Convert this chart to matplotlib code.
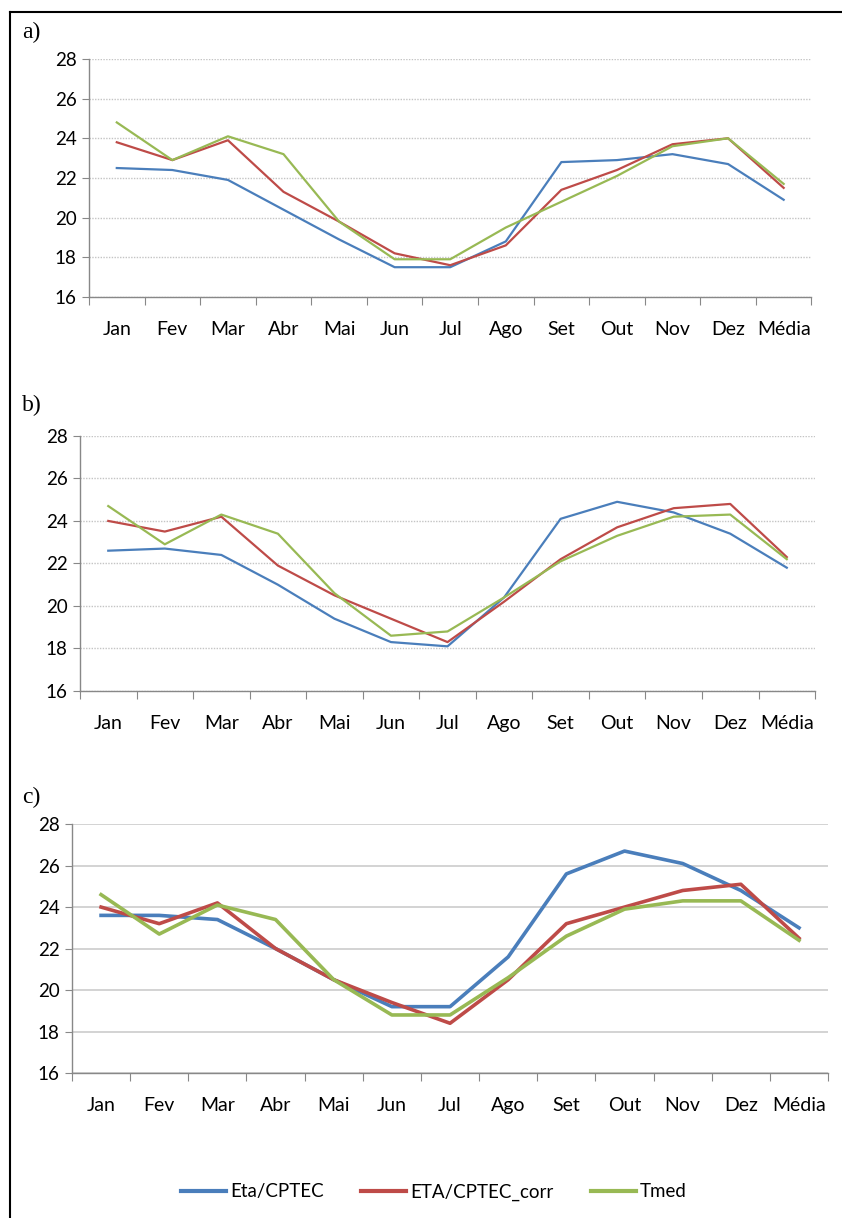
import matplotlib

matplotlib.use("Agg")
import matplotlib.pyplot as plt
from matplotlib.lines import Line2D

months = ["Jan", "Fev", "Mar", "Abr", "Mai", "Jun", "Jul", "Ago", "Set", "Out", "Nov", "Dez", "Média"]

# panel a)
eta_a = [22.5, 22.4, 21.9, 20.4, 18.9, 17.5, 17.5, 18.8, 22.8, 22.9, 23.2, 22.7, 20.9]
corr_a = [23.8, 22.9, 23.9, 21.3, 19.8, 18.2, 17.6, 18.6, 21.4, 22.4, 23.7, 24.0, 21.5]
tmed_a = [24.8, 22.9, 24.1, 23.2, 19.8, 17.9, 17.9, 19.5, 20.8, 22.1, 23.6, 24.0, 21.7]

# panel b)
eta_b = [22.6, 22.7, 22.4, 21.0, 19.4, 18.3, 18.1, 20.4, 24.1, 24.9, 24.4, 23.4, 21.8]
corr_b = [24.0, 23.5, 24.2, 21.9, 20.5, 19.4, 18.3, 20.2, 22.2, 23.7, 24.6, 24.8, 22.3]
tmed_b = [24.7, 22.9, 24.3, 23.4, 20.6, 18.6, 18.8, 20.4, 22.1, 23.3, 24.2, 24.3, 22.2]

# panel c)
eta_c = [23.6, 23.6, 23.4, 22.0, 20.5, 19.2, 19.2, 21.6, 25.6, 26.7, 26.1, 24.8, 23.0]
corr_c = [24.0, 23.2, 24.2, 22.0, 20.5, 19.4, 18.4, 20.5, 23.2, 24.0, 24.8, 25.1, 22.5]
tmed_c = [24.6, 22.7, 24.1, 23.4, 20.5, 18.8, 18.8, 20.6, 22.6, 23.9, 24.3, 24.3, 22.4]

series_labels = ["Eta/CPTEC", "ETA/CPTEC_corr", "Tmed"]
colors = ["#4a7ebb", "#be4b48", "#98b954"]
yticks = [16, 18, 20, 22, 24, 26, 28]

TICK_FONT = ["Lato", "DejaVu Sans"]
LABEL_FONT = ["Liberation Serif", "DejaVu Serif"]

fig = plt.figure(figsize=(8.42, 12.18), dpi=100)

# frame around the figure (top and left edges visible)
fig.add_artist(Line2D([10 / 842, 1.0], [1 - 12 / 1218, 1 - 12 / 1218], color="black", lw=1.5))
fig.add_artist(Line2D([10 / 842, 10 / 842], [0.0, 1 - 12 / 1218], color="black", lw=1.5))

panels = [
    ("a)", [eta_a, corr_a, tmed_a], [0.1057, 0.7562, 0.858, 0.1954], 1.6, ":", (22 / 842, 1 - 32 / 1218)),
    ("b)", [eta_b, corr_b, tmed_b], [0.0950, 0.4327, 0.873, 0.2094], 1.6, ":", (22 / 842, 1 - 405 / 1218)),
    ("c)", [eta_c, corr_c, tmed_c], [0.0855, 0.1190, 0.898, 0.2044], 2.6, "-", (22 / 842, 1 - 797 / 1218)),
]

x = list(range(len(months)))

for tag, data, rect, lw, gstyle, tagpos in panels:
    ax = fig.add_axes(rect)
    for vals, lab, col in zip(data, series_labels, colors):
        ax.plot(x, vals, color=col, lw=lw, label=lab, solid_joinstyle="round")

    ax.set_xlim(-0.5, len(months) - 0.5)
    ax.set_ylim(16, 28)
    ax.set_yticks(yticks)
    ax.set_yticklabels([str(v) for v in yticks], fontsize=13.5, family=TICK_FONT)

    # category ticks at boundaries, labels centred (Excel style)
    ax.set_xticks([i - 0.5 for i in range(len(months) + 1)])
    ax.set_xticklabels([])
    ax.set_xticks(x, minor=True)
    ax.set_xticklabels(months, minor=True, fontsize=14, family=TICK_FONT)
    ax.tick_params(axis="x", which="minor", length=0, pad=17)
    ax.tick_params(axis="x", which="major", length=6, color="#888888", direction="out")
    ax.tick_params(axis="y", length=5, color="#888888", direction="out", pad=4)

    for side in ["top", "right"]:
        ax.spines[side].set_visible(False)
    for side in ["left", "bottom"]:
        ax.spines[side].set_color("#888888")
        ax.spines[side].set_linewidth(1.0)

    if gstyle == ":":
        ax.grid(axis="y", which="major", linestyle=(0, (1, 1)), color="#c4c4c4", lw=1.0)
    else:
        ax.grid(axis="y", which="major", linestyle="-", color="#cccccc", lw=1.2)
    ax.set_axisbelow(True)

    fig.text(tagpos[0], tagpos[1], tag, fontsize=17, family=LABEL_FONT, va="center", ha="left")

handles = [Line2D([0], [0], color=c, lw=3) for c in colors]
fig.legend(handles, series_labels, loc="center", bbox_to_anchor=(0.515, 1 - 1192 / 1218),
           ncol=3, frameon=False, prop={"family": TICK_FONT, "size": 13.5},
           handlelength=2.4, handletextpad=0.2, columnspacing=2.0)

fig.savefig("out.png", dpi=100)
